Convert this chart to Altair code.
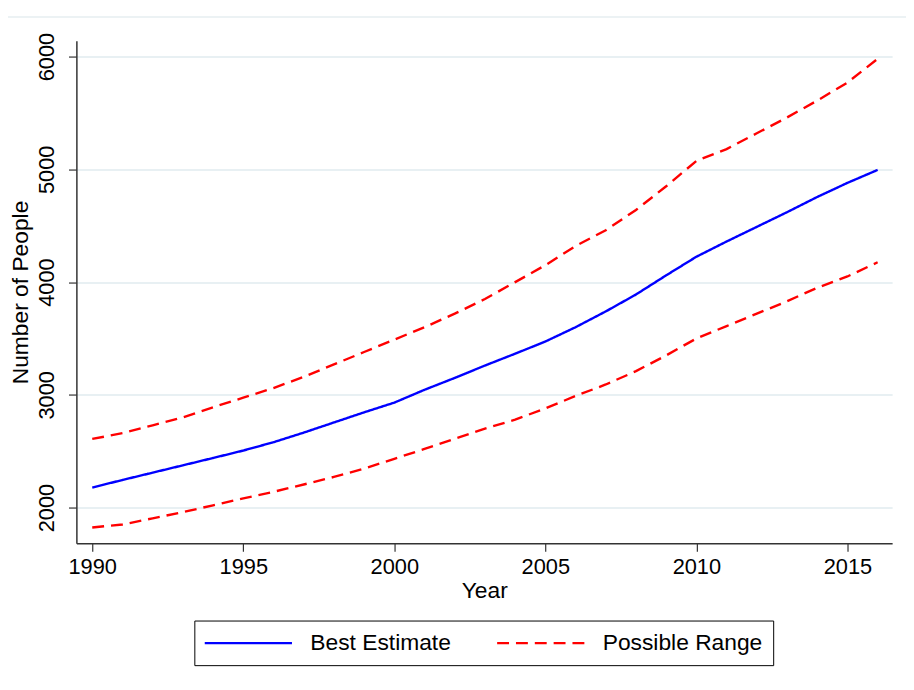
import altair as alt
import pandas as pd

years = list(range(1990, 2017))

best_estimate = [2178, 2245, 2310, 2375, 2440, 2506, 2580, 2665, 2755, 2845,
                 2931, 3045, 3150, 3260, 3365, 3473, 3600, 3740, 3890, 4060,
                 4225, 4360, 4490, 4620, 4755, 4880, 4995]

upper_range = [2609, 2660, 2730, 2800, 2890, 2975, 3060, 3160, 3270, 3380,
               3490, 3600, 3720, 3850, 4000, 4150, 4320, 4460, 4640, 4850,
               5075, 5180, 5320, 5460, 5610, 5770, 5980]

lower_range = [1824, 1850, 1905, 1960, 2020, 2082, 2140, 2205, 2272, 2345,
               2433, 2520, 2610, 2700, 2780, 2880, 2990, 3092, 3210, 3350,
               3500, 3610, 3720, 3830, 3950, 4050, 4176]

series_names = ["Best Estimate", "Possible Range"]
x_ticks = [1990, 1995, 2000, 2005, 2010, 2015]
y_ticks = [2000, 3000, 4000, 5000, 6000]

rows = []
for y, v in zip(years, best_estimate):
    rows.append({"year": y, "value": v, "series": "Best Estimate", "part": "best"})
for y, v in zip(years, upper_range):
    rows.append({"year": y, "value": v, "series": "Possible Range", "part": "upper"})
for y, v in zip(years, lower_range):
    rows.append({"year": y, "value": v, "series": "Possible Range", "part": "lower"})
df = pd.DataFrame(rows)

FONT = "Liberation Sans"

lines = alt.Chart(df).mark_line(strokeWidth=2.4).encode(
    x=alt.X("year:Q",
            scale=alt.Scale(domain=[1989.475, 2016.48], nice=False, zero=False),
            axis=alt.Axis(values=x_ticks, format="d", title="Year", grid=False,
                          labelPadding=6, titlePadding=2)),
    y=alt.Y("value:Q",
            scale=alt.Scale(domain=[1684, 6141], nice=False, zero=False),
            axis=alt.Axis(values=y_ticks, format="d", title="Number of People",
                          grid=True, labelAngle=270, labelPadding=10, titlePadding=3)),
    color=alt.Color("series:N",
                    scale=alt.Scale(domain=series_names, range=["#0000ff", "#ff0000"]),
                    legend=alt.Legend(title=None)),
    strokeDash=alt.StrokeDash("series:N",
                              scale=alt.Scale(domain=series_names, range=[[1, 0], [12, 7]]),
                              legend=alt.Legend(title=None)),
    detail="part:N",
)

top_border = alt.Chart(pd.DataFrame({"a": [0]})).mark_rule(
    color="#e6eef0", strokeWidth=1.5
).encode(x=alt.value(-77), x2=alt.value(837), y=alt.value(-24))

chart = alt.layer(top_border, lines).properties(
    width=823,
    height=507,
    padding={"left": 69, "top": 30, "right": 14, "bottom": 137},
    autosize=alt.AutoSizeParams(type="none"),
).configure_view(
    stroke=None
).configure_axis(
    domainColor="#333333",
    domainWidth=1.5,
    tickColor="#333333",
    tickWidth=1.2,
    tickSize=8,
    labelFont=FONT,
    labelFontSize=22,
    labelColor="#000000",
    titleFont=FONT,
    titleFontSize=23,
    titleFontWeight="normal",
    titleColor="#000000",
    gridColor="#e8f0f3",
    gridWidth=2,
).configure_legend(
    orient="none",
    legendX=119,
    legendY=585,
    direction="horizontal",
    columns=2,
    strokeColor="#000000",
    strokeWidth=1,
    padding=10,
    symbolType="M-4,0H4",
    symbolSize=484,
    symbolOffset=32,
    symbolStrokeWidth=2.4,
    labelFont=FONT,
    labelFontSize=23,
    labelColor="#000000",
    labelOffset=50,
    labelLimit=400,
    columnPadding=41,
)

chart.save("out.html", embed_options={"renderer": "svg", "actions": False})
